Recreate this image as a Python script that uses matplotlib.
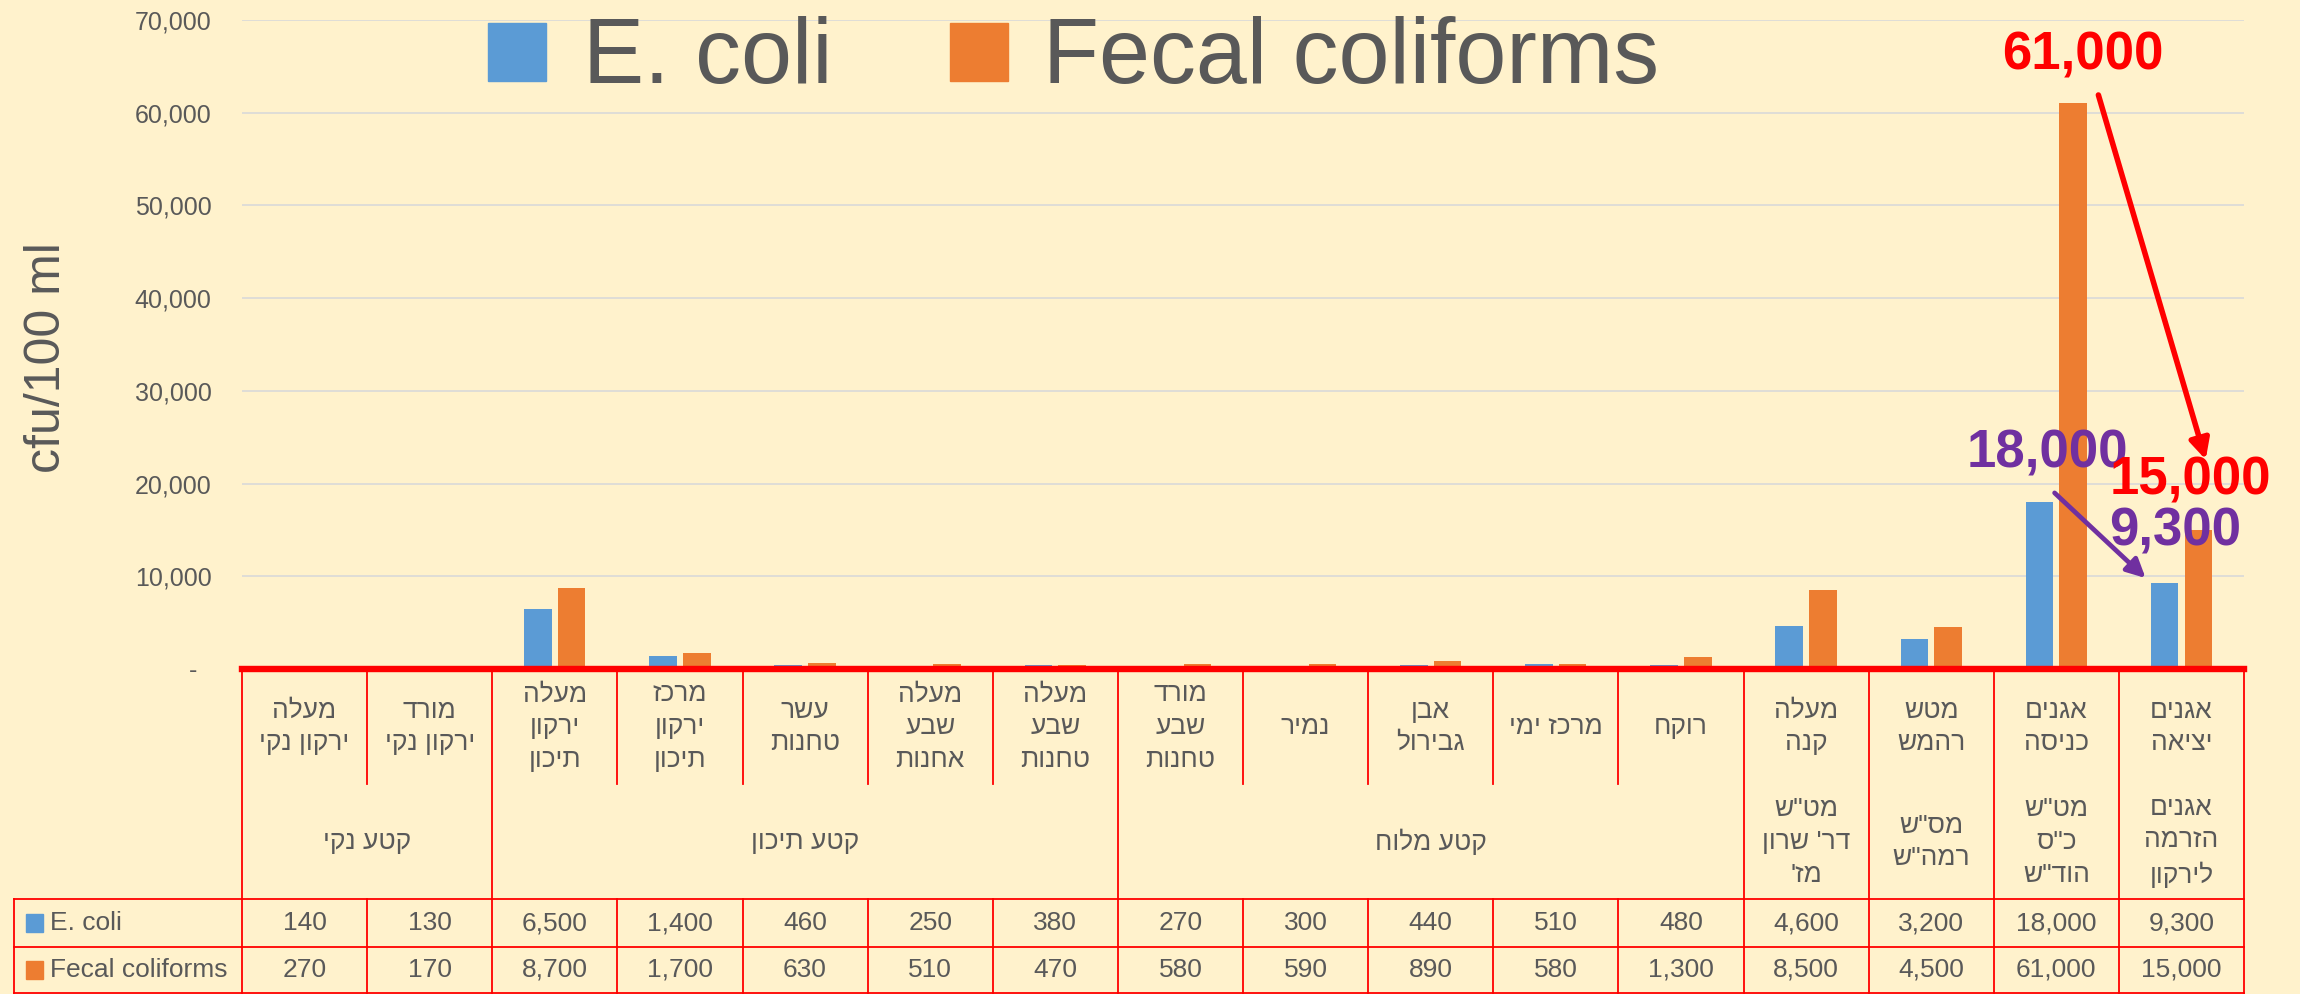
import matplotlib

matplotlib.use('Agg')
import matplotlib.pyplot as plt
from matplotlib.patches import Rectangle
from matplotlib.ticker import FuncFormatter
from matplotlib.transforms import blended_transform_factory
import numpy as np

plt.rcParams['font.family'] = ['Liberation Sans', 'DejaVu Sans']

# sampling sites (logical Hebrew order, one string per table cell)
sites = ['מעלה\nירקון נקי', 'מורד\nירקון נקי', 'מעלה\nירקון\nתיכון', 'מרכז\nירקון\nתיכון',
         'עשר\nטחנות', 'מעלה\nשבע\nאחנות', 'מעלה\nשבע\nטחנות', 'מורד\nשבע\nטחנות',
         'נמיר', 'אבן\nגבירול', 'מרכז ימי', 'רוקח', 'מעלה\nקנה', 'מטש\nרהמש',
         'אגנים\nכניסה', 'אגנים\nיציאה']
sections = ['קטע נקי', 'קטע תיכון', 'קטע מלוח', 'מט"ש\nדר\' שרון\nמז\'', 'מס"ש\nרמה"ש',
            'מט"ש\nכ"ס\nהוד"ש', 'אגנים\nהזרמה\nלירקון']
section_sizes = [2, 5, 5, 1, 1, 1, 1]

series_names = ['E. coli', 'Fecal coliforms']
ecoli = [140, 130, 6500, 1400, 460, 250, 380, 270, 300, 440, 510, 480, 4600, 3200, 18000, 9300]
fecal = [270, 170, 8700, 1700, 630, 510, 470, 580, 590, 890, 580, 1300, 8500, 4500, 61000, 15000]
y_ticks = [0, 10000, 20000, 30000, 40000, 50000, 60000, 70000]

BLUE = '#5B9BD5'
ORANGE = '#ED7D31'
GRAY = '#595959'
BG = '#FFF2CC'
W, H = 2300, 994


def rtl(s):
    # matplotlib has no bidi support: flip every line by hand
    return '\n'.join(line[::-1] for line in s.split('\n'))


def fy(px):
    return 1 - px / H


fig = plt.figure(figsize=(W / 100, H / 100), dpi=100, facecolor=BG)
ax = fig.add_axes([242 / W, fy(669), 2002 / W, (669 - 20) / H])
ax.set_facecolor(BG)

x = np.arange(len(sites))
ax.bar(x - 0.135, ecoli, 0.22, color=BLUE, zorder=2)
ax.bar(x + 0.135, fecal, 0.22, color=ORANGE, zorder=2)

ax.set_xlim(-0.5, len(sites) - 0.5)
ax.set_ylim(0, 70000)
ax.set_yticks(y_ticks)
ax.yaxis.set_major_formatter(FuncFormatter(lambda v, p: f'{int(v):,}' if v else '-  '))
ax.tick_params(axis='y', length=0, pad=22, labelsize=18, labelcolor=GRAY)
ax.set_xticks([])
ax.grid(axis='y', color='#D9D9D9', linewidth=1.2, zorder=0)
ax.set_axisbelow(True)
for s in ['top', 'right', 'left']:
    ax.spines[s].set_visible(False)
ax.spines['bottom'].set_color('red')
ax.spines['bottom'].set_linewidth(4.6)
ax.spines['bottom'].set_zorder(5)

fig.text(47 / W, fy(358), 'cfu/100 ml', rotation=90, ha='center', va='center',
         fontsize=36, color=GRAY)

# legend
for lx, tx, col, name in [(488, 583, BLUE, series_names[0]), (950, 1043, ORANGE, series_names[1])]:
    fig.patches.append(Rectangle((lx / W, fy(81)), 58 / W, 58 / H, transform=fig.transFigure,
                                 color=col, zorder=3))
    fig.text(tx / W, fy(83), name, fontsize=66, color=GRAY, va='baseline', ha='left')

# data table under the axis
tr = blended_transform_factory(ax.transData, fig.transFigure)
red_kw = dict(color='red', linewidth=1.3, clip_on=False, zorder=4)
group_edges = set(np.cumsum([0] + section_sizes) - 0.5)
for b in np.arange(len(sites) + 1) - 0.5:
    if b in group_edges:
        ax.plot([b, b], [fy(669), fy(994)], transform=tr, **red_kw)
    else:
        ax.plot([b, b], [fy(669), fy(784)], transform=tr, **red_kw)
        ax.plot([b, b], [fy(899), fy(994)], transform=tr, **red_kw)
for yy in [899, 947, 993]:
    ax.plot([14 / W, 2244 / W], [fy(yy), fy(yy)], transform=fig.transFigure, **red_kw)
ax.plot([14 / W, 14 / W], [fy(899), fy(994)], transform=fig.transFigure, **red_kw)

for i, name in enumerate(sites):
    ax.text(i, fy(727), rtl(name), transform=tr, ha='center', va='center', fontsize=19,
            color=GRAY, linespacing=1.45)
    ax.text(i, fy(923), f'{ecoli[i]:,}', transform=tr, ha='center', va='center', fontsize=19,
            color=GRAY)
    ax.text(i, fy(970), f'{fecal[i]:,}', transform=tr, ha='center', va='center', fontsize=19,
            color=GRAY)

start = 0
for label, n in zip(sections, section_sizes):
    ax.text(start + (n - 1) / 2, fy(842), rtl(label), transform=tr, ha='center', va='center',
            fontsize=19, color=GRAY, linespacing=1.45)
    start += n

for yy, col, name in [(923, BLUE, series_names[0]), (970, ORANGE, series_names[1])]:
    fig.patches.append(Rectangle((26 / W, fy(yy + 9)), 17 / W, 18 / H, transform=fig.transFigure,
                                 color=col))
    fig.text(50 / W, fy(yy), name, fontsize=19, color=GRAY, ha='left', va='center')

# callouts
RED = '#FF0000'
PURPLE = '#7030A0'
ax.annotate('', xy=(15.2, 22300), xytext=(14.33, 62200),
            arrowprops=dict(arrowstyle='-|>', color=RED, lw=4, mutation_scale=30))
ax.annotate('', xy=(14.73, 9600), xytext=(13.97, 19200),
            arrowprops=dict(arrowstyle='-|>', color=PURPLE, lw=3.4, mutation_scale=28))
ax.text(14.21, 66200, f'{fecal[14]:,}', color=RED, fontsize=38, fontweight='bold',
        ha='center', va='center', clip_on=False)
ax.text(13.93, 23200, f'{ecoli[14]:,}', color=PURPLE, fontsize=38, fontweight='bold',
        ha='center', va='center', clip_on=False, zorder=6)
ax.text(15.07, 20300, f'{fecal[15]:,}', color=RED, fontsize=38, fontweight='bold',
        ha='center', va='center', clip_on=False, zorder=6)
ax.text(14.95, 14800, f'{ecoli[15]:,}', color=PURPLE, fontsize=38, fontweight='bold',
        ha='center', va='center', clip_on=False, zorder=6)

fig.savefig('out.png', dpi=100, facecolor=BG)
